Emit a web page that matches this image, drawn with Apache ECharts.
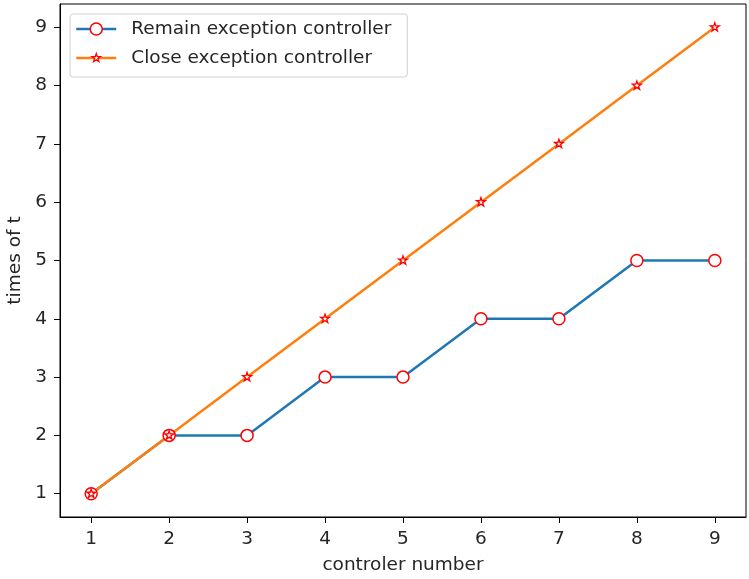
<!DOCTYPE html>
<html>
<head>
<meta charset="utf-8">
<script src="https://cdn.jsdelivr.net/npm/echarts@6/dist/echarts.min.js"></script>
<style>html,body{margin:0;padding:0;background:#fff;}#c{width:749px;height:579px;}</style>
</head>
<body>
<div id="c"></div>
<script>
const controllers = [1, 2, 3, 4, 5, 6, 7, 8, 9];
const remainValues = [1, 2, 2, 3, 3, 4, 4, 5, 5];
const closeValues = [1, 2, 3, 4, 5, 6, 7, 8, 9];
const xTicks = [1, 2, 3, 4, 5, 6, 7, 8, 9];
const yTicks = [1, 2, 3, 4, 5, 6, 7, 8, 9];
const seriesNames = ['Remain exception controller', 'Close exception controller'];

// star glyph with a padded bounding box so that it draws smaller than its symbol box
const star = 'path://M-1.35,-1.35 M1.35,1.35 M0,-1 L0.2245,-0.309 L0.951,-0.309 L0.363,0.118 L0.588,0.809 L0,0.382 L-0.588,0.809 L-0.363,0.118 L-0.951,-0.309 L-0.2245,-0.309 Z';
const font = 'DejaVu Sans';
const fs = 18.5;
const txt = '#262626';
const blue = '#1f77b4', orange = '#ff7f0e', red = '#ff0000';
const chart = echarts.init(document.getElementById('c'), null, {renderer: 'canvas'});
chart.setOption({
  animation: false,
  backgroundColor: '#fff',
  textStyle: {fontFamily: font},
  grid: {left: 60, top: 4, right: 3, bottom: 62, show: true, borderColor: '#000', borderWidth: 1, containLabel: false, outerBoundsMode: 'none'},
  legend: {
    left: 70, top: 14, orient: 'vertical',
    itemWidth: 40, itemHeight: 15, itemGap: 9,
    padding: [5, 16, 9, 5],
    borderColor: '#d0d0d0', borderWidth: 1, borderRadius: 3,
    backgroundColor: 'rgba(255,255,255,0.8)',
    textStyle: {fontFamily: font, fontSize: fs, color: txt, lineHeight: 20, padding: [0, 0, 0, 10]},
    data: [
      {name: seriesNames[0], itemStyle: {color: '#fff', borderColor: red, borderWidth: 1.5}, lineStyle: {color: blue, width: 2.5}},
      {name: seriesNames[1], itemStyle: {color: '#fff', borderColor: red, borderWidth: 1.3}, lineStyle: {color: orange, width: 2.5}}
    ]
  },
  xAxis: {
    type: 'value', min: 0.6, max: 9.4,
    name: 'controler number', nameLocation: 'middle', nameGap: 39,
    nameTextStyle: {fontFamily: font, fontSize: fs, color: txt},
    axisLine: {show: true, lineStyle: {color: '#000', width: 1}},
    axisTick: {show: true, length: 6, lineStyle: {color: '#000'}, customValues: xTicks},
    axisLabel: {fontFamily: font, fontSize: fs, color: txt, margin: 13, customValues: xTicks},
    splitLine: {show: false}
  },
  yAxis: {
    type: 'value', min: 0.6, max: 9.4,
    name: 'times of t', nameLocation: 'middle', nameGap: 35,
    nameTextStyle: {fontFamily: font, fontSize: fs, color: txt},
    axisLine: {show: true, lineStyle: {color: '#000', width: 1}},
    axisTick: {show: true, length: 6, lineStyle: {color: '#000'}, customValues: yTicks},
    axisLabel: {fontFamily: font, fontSize: fs, color: txt, margin: 13, customValues: yTicks},
    splitLine: {show: false}
  },
  series: [
    {
      name: seriesNames[0], type: 'line',
      data: controllers.map((c, i) => [c, remainValues[i]]),
      symbol: 'circle', symbolSize: 12, showAllSymbol: true,
      lineStyle: {color: blue, width: 2.5},
      itemStyle: {color: '#fff', borderColor: red, borderWidth: 1.5},
      color: blue
    },
    {
      name: seriesNames[1], type: 'line',
      data: controllers.map((c, i) => [c, closeValues[i]]),
      symbol: star, symbolSize: 12.5, showAllSymbol: true,
      lineStyle: {color: orange, width: 2.5},
      itemStyle: {color: '#fff', borderColor: red, borderWidth: 1.3},
      color: orange
    }
  ]
});
</script>
</body>
</html>
